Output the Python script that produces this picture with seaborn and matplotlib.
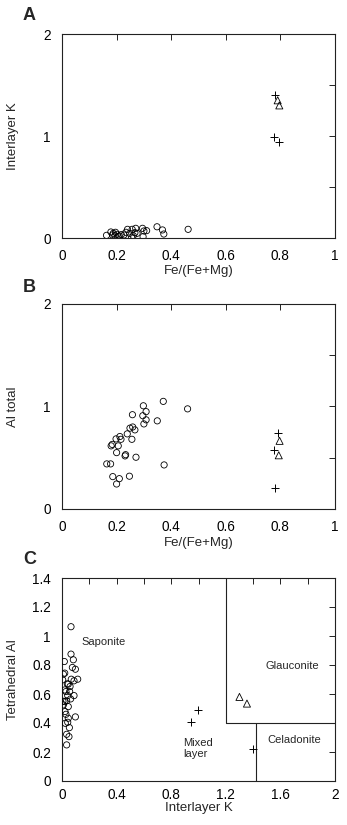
import matplotlib
matplotlib.use("Agg")
import matplotlib.pyplot as plt
import seaborn as sns
from matplotlib.ticker import FixedLocator, FixedFormatter

sns.set_theme(style="white")
plt.rcParams["font.family"] = ["Liberation Sans", "DejaVu Sans"]

# --- Panel A: Fe/(Fe+Mg) vs interlayer K ---
a_sap_fe = [0.163, 0.179, 0.188, 0.194, 0.196, 0.202, 0.21, 0.217, 0.227, 0.234,
            0.24, 0.248, 0.255, 0.261, 0.257, 0.27, 0.267, 0.275, 0.295, 0.30,
            0.297, 0.31, 0.348, 0.368, 0.373, 0.462, 0.185, 0.205]
a_sap_k = [0.026, 0.059, 0.046, 0.023, 0.056, 0.036, 0.02, 0.033, 0.03, 0.056,
           0.085, 0.046, 0.007, 0.023, 0.085, 0.095, 0.052, 0.046, 0.095, 0.069,
           0.013, 0.072, 0.11, 0.079, 0.039, 0.085, 0.03, 0.015]
a_mix_fe = [0.78, 0.777, 0.794]
a_mix_k = [1.40, 0.99, 0.94]
a_gla_fe = [0.79, 0.796]
a_gla_k = [1.35, 1.30]

# --- Panel B: Fe/(Fe+Mg) vs total Al ---
b_sap_fe = [0.164, 0.178, 0.186, 0.20, 0.21, 0.247, 0.20, 0.18, 0.184, 0.206,
            0.198, 0.212, 0.216, 0.231, 0.233, 0.271, 0.239, 0.249, 0.259, 0.267,
            0.256, 0.258, 0.298, 0.296, 0.308, 0.308, 0.30, 0.349, 0.371, 0.374,
            0.46]
b_sap_al = [0.44, 0.44, 0.316, 0.244, 0.296, 0.32, 0.55, 0.616, 0.63, 0.616,
            0.684, 0.707, 0.68, 0.518, 0.53, 0.505, 0.733, 0.789, 0.80, 0.772,
            0.68, 0.92, 1.007, 0.91, 0.95, 0.87, 0.83, 0.86, 1.05, 0.43,
            0.977]
b_mix_fe = [0.791, 0.777, 0.781]
b_mix_al = [0.746, 0.573, 0.208]
b_gla_fe = [0.797, 0.794]
b_gla_al = [0.665, 0.524]

# --- Panel C: interlayer K vs tetrahedral Al ---
c_sap_k = [0.066, 0.017, 0.066, 0.083, 0.076, 0.098, 0.01, 0.005, 0.068, 0.088,
           0.115, 0.046, 0.059, 0.029, 0.042, 0.088, 0.02, 0.034, 0.063, 0.01,
           0.046, 0.022, 0.029, 0.098, 0.046, 0.024, 0.042, 0.054, 0.034, 0.051,
           0.034, 0.02, 0.039, 0.056, 0.007, 0.02]
c_sap_al = [1.064, 0.824, 0.875, 0.836, 0.783, 0.771, 0.737, 0.698, 0.702, 0.691,
            0.702, 0.668, 0.652, 0.617, 0.589, 0.589, 0.548, 0.553, 0.566, 0.525,
            0.513, 0.479, 0.46, 0.442, 0.433, 0.398, 0.405, 0.368, 0.322, 0.306,
            0.249, 0.744, 0.67, 0.617, 0.55, 0.628]
c_mix_k = [0.943, 0.996, 1.397]
c_mix_al = [0.408, 0.488, 0.221]
c_gla_k = [1.30, 1.355]
c_gla_al = [0.58, 0.534]

# field boundaries in panel C
glauc_x = [1.2, 1.2, 2.0]
glauc_y = [1.4, 0.4, 0.4]
celad_x = [1.42, 1.42]
celad_y = [0.0, 0.4]

field_labels = [("Saponite", 0.14, 0.96, "left"),
                ("Glauconite", 1.69, 0.79, "center"),
                ("Mixed\nlayer", 0.885, 0.225, "left"),
                ("Celadonite", 1.70, 0.28, "center")]

W, H = 347, 825
fig = plt.figure(figsize=(W / 100, H / 100), dpi=100)


def ax_at(left, top, right, bottom):
    return fig.add_axes([left / W, 1 - bottom / H, (right - left) / W, (bottom - top) / H])


axA = ax_at(62, 34, 335, 238)
axB = ax_at(62, 304, 335, 509)
axC = ax_at(62, 578, 335, 781)

FS = 9.8
LFS = 9.5
edge = "#222222"


def scatter_sets(ax, sets):
    (sx, sy), (mx, my), (gx, gy) = sets
    sns.scatterplot(x=sx, y=sy, ax=ax, marker="o", s=20, facecolor="none",
                    edgecolor="black", linewidth=0.6, zorder=3)
    sns.scatterplot(x=mx, y=my, ax=ax, marker="+", s=36, color="black",
                    linewidth=0.7, zorder=3)
    sns.scatterplot(x=gx, y=gy, ax=ax, marker="^", s=26, facecolor="none",
                    edgecolor="black", linewidth=0.6, zorder=3)


def style_axes(ax, xlab_y, xpad, ylab_x=-0.179):
    for sp in ax.spines.values():
        sp.set_color(edge)
        sp.set_linewidth(0.8)
    ax.tick_params(which="both", direction="in", top=True, right=True,
                   length=4, width=0.7, color=edge, labelsize=FS, labelcolor="black")
    ax.tick_params(axis="x", which="both", pad=xpad)
    ax.tick_params(axis="y", which="both", pad=8)
    ax.xaxis.set_label_coords(0.5, xlab_y)
    ax.xaxis.label.set_va("center")
    ax.yaxis.set_label_coords(ylab_x, 0.5)
    ax.yaxis.label.set_va("center")
    ax.set_facecolor("white")


scatter_sets(axA, [(a_sap_fe, a_sap_k), (a_mix_fe, a_mix_k), (a_gla_fe, a_gla_k)])
scatter_sets(axB, [(b_sap_fe, b_sap_al), (b_mix_fe, b_mix_al), (b_gla_fe, b_gla_al)])
scatter_sets(axC, [(c_sap_k, c_sap_al), (c_mix_k, c_mix_al), (c_gla_k, c_gla_al)])

fe_ticks = [0, 0.2, 0.4, 0.6, 0.8, 1.0]
fe_labels = ["0", "0.2", "0.4", "0.6", "0.8", "1"]
for ax, ylab, xly in ((axA, "Interlayer K", -0.162), (axB, "Al total", -0.166)):
    ax.set_xlim(0, 1)
    ax.set_ylim(0, 2)
    ax.xaxis.set_major_locator(FixedLocator(fe_ticks))
    ax.xaxis.set_major_formatter(FixedFormatter(fe_labels))
    ax.yaxis.set_major_locator(FixedLocator([0, 1, 2]))
    ax.yaxis.set_major_formatter(FixedFormatter(["0", "1", "2"]))
    ax.yaxis.set_minor_locator(FixedLocator([0.5, 1.5]))
    ax.set_xlabel("Fe/(Fe+Mg)", fontsize=LFS)
    ax.set_ylabel(ylab, fontsize=LFS)
    style_axes(ax, xly, 8)

axC.set_xlim(0, 2)
axC.set_ylim(0, 1.4)
axC.xaxis.set_major_locator(FixedLocator([0, 0.4, 0.8, 1.2, 1.6, 2.0]))
axC.xaxis.set_major_formatter(FixedFormatter(["0", "0.4", "0.8", "1.2", "1.6", "2"]))
axC.xaxis.set_minor_locator(FixedLocator([0.2, 0.6, 1.0, 1.4, 1.8]))
axC.yaxis.set_major_locator(FixedLocator([0, 0.2, 0.4, 0.6, 0.8, 1.0, 1.2, 1.4]))
axC.yaxis.set_major_formatter(FixedFormatter(["0", "0.2", "0.4", "0.6", "0.8", "1", "1.2", "1.4"]))
axC.set_xlabel("Interlayer K", fontsize=LFS)
axC.set_ylabel("Tetrahedral Al", fontsize=LFS)
style_axes(axC, -0.135, 5)
axC.plot(glauc_x, glauc_y, color=edge, linewidth=0.8, zorder=2)
axC.plot(celad_x, celad_y, color=edge, linewidth=0.8, zorder=2)
for txt, x, y, ha in field_labels:
    axC.text(x, y, txt, fontsize=8, ha=ha, va="center", linespacing=1.1)

for letter, x, y in (("A", 23, 15), ("B", 23, 287), ("C", 23, 559)):
    fig.text(x / W, 1 - y / H, letter, fontsize=13, fontweight="bold",
             ha="left", va="center")

fig.savefig("out.png", dpi=100, facecolor="white")
